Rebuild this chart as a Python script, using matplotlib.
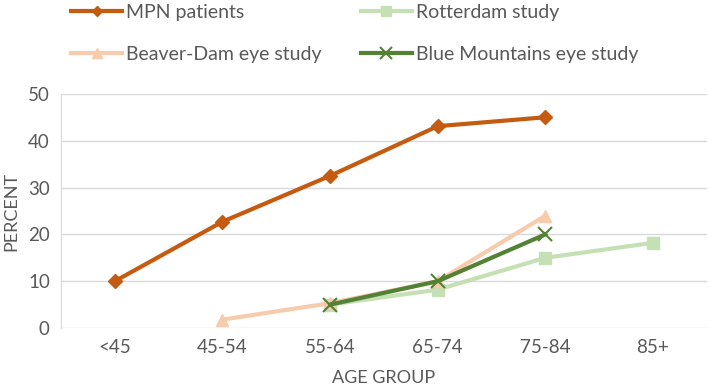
import matplotlib.pyplot as plt

age_groups = ["<45", "45-54", "55-64", "65-74", "75-84", "85+"]

mpn = [10, 22.7, 32.5, 43.1, 45, None]
rotterdam = [None, None, 5, 8.2, 15, 18.2]
beaver_dam = [None, 1.8, 5.3, 10, 24, None]
blue_mountains = [None, None, 5, 10, 20, None]

plt.rcParams['font.family'] = ['Lato', 'DejaVu Sans']
gris = '#595959'

fig = plt.figure(figsize=(7.09, 3.91), dpi=100)
ax = fig.add_axes([0.086, 0.161, 0.911, 0.599])

x = list(range(len(age_groups)))

def serie(vals):
    xs = [i for i, v in zip(x, vals) if v is not None]
    ys = [v for v in vals if v is not None]
    return xs, ys

# orden de dibujo: las claras primero
xs, ys = serie(rotterdam)
l_rot, = ax.plot(xs, ys, color='#C5E0B4', lw=3, marker='s', ms=9, label='Rotterdam study')
xs, ys = serie(beaver_dam)
l_bd, = ax.plot(xs, ys, color='#F8CBAD', lw=3, marker='^', ms=9, label='Beaver-Dam eye study')
xs, ys = serie(blue_mountains)
l_bm, = ax.plot(xs, ys, color='#548235', lw=3, marker='x', ms=10, mew=1.5, label='Blue Mountains eye study')
xs, ys = serie(mpn)
l_mpn, = ax.plot(xs, ys, color='#C55A11', lw=3, marker='D', ms=7, label='MPN patients')

ax.set_xlim(-0.5, len(age_groups) - 0.5)
ax.set_ylim(0, 50)
ax.set_yticks([0, 10, 20, 30, 40, 50])
ax.set_xticks(x)
ax.set_xticklabels(age_groups)
ax.grid(axis='y', color='#D9D9D9', lw=1)
ax.set_axisbelow(True)
for s in ['top', 'right', 'bottom']:
    ax.spines[s].set_visible(False)
ax.spines['left'].set_color('#D9D9D9')
ax.tick_params(length=0, labelsize=13.5, colors=gris, pad=8)
ax.set_xlabel('AGE GROUP', fontsize=13, color=gris, labelpad=10)
ax.set_ylabel('PERCENT', fontsize=13, color=gris, labelpad=6)

# leyenda por columnas: MPN / Beaver-Dam, Rotterdam / Blue Mountains
fig.legend(handles=[l_mpn, l_bd, l_rot, l_bm], ncol=2, loc='upper left',
           bbox_to_anchor=(0.076, 1.035), frameon=False, fontsize=14,
           labelcolor=gris, handlelength=2.6, columnspacing=2.05, labelspacing=1.3,
           handletextpad=0.2, markerscale=0.8)

plt.savefig('out.png', dpi=100)
